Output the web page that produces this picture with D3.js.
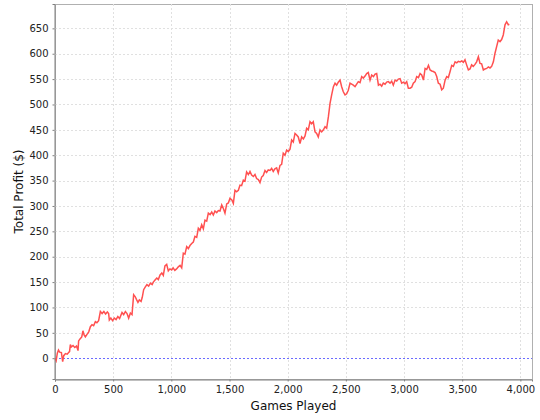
<!DOCTYPE html>
<html><head><meta charset="utf-8">
<script src="https://cdn.jsdelivr.net/npm/d3@7"></script>
<style>body{margin:0;background:#fff}svg{display:block}text{font-family:"DejaVu Sans",sans-serif}</style>
</head><body>
<svg id="c" width="540" height="420"></svg>
<script>
const games = [0,10,20,30,40,55,66,75,90,105,117,125,132,140,155,170,185,198,203,215,230,240,250,261,275,290,304,318,332,347,360,375,390,405,420,435,450,461,467,480,495,510,525,540,555,576,590,605,619,633,648,662,676,690,700,713,725,740,750,762,775,790,805,820,835,845,860,875,888,903,918,931,945,960,974,988,1003,1015,1030,1045,1060,1075,1089,1103,1117,1132,1146,1160,1175,1189,1203,1218,1232,1246,1261,1275,1289,1304,1318,1333,1347,1361,1375,1390,1404,1418,1433,1447,1461,1476,1490,1504,1520,1533,1547,1561,1576,1590,1604,1619,1633,1647,1662,1676,1690,1705,1719,1733,1748,1762,1776,1790,1805,1819,1833,1848,1862,1876,1890,1905,1919,1934,1948,1962,1977,1991,2005,2020,2034,2048,2063,2077,2091,2106,2120,2135,2149,2163,2177,2192,2206,2220,2235,2249,2263,2278,2292,2307,2321,2335,2350,2364,2378,2393,2407,2421,2435,2450,2464,2478,2493,2507,2521,2536,2550,2564,2579,2593,2607,2622,2636,2650,2665,2679,2693,2708,2722,2737,2751,2765,2780,2794,2808,2822,2837,2851,2865,2880,2894,2908,2923,2937,2951,2966,2980,2995,3009,3023,3037,3052,3066,3080,3095,3109,3124,3138,3152,3167,3181,3195,3210,3224,3238,3252,3267,3281,3295,3310,3324,3338,3353,3367,3381,3396,3410,3424,3439,3453,3467,3482,3496,3510,3524,3538,3553,3567,3581,3595,3610,3624,3639,3653,3667,3682,3696,3710,3725,3739,3753,3768,3782,3796,3810,3825,3839,3853,3868,3882,3896,3905];
const profit = [0,-5,10,16,12,11,-7,5,9,8,11,13,27,22,25,21,24,15,34,38,42,54,46,42,47,52,62,66,64,72,70,74,92,88,92,87,91,88,75,79,74,79,76,82,78,90,86,92,88,79,89,86,125,121,116,110,115,112,120,135,140,145,142,148,145,150,154,158,155,164,168,163,182,185,172,176,174,178,173,176,180,183,178,207,205,220,216,222,226,229,240,238,256,252,263,255,272,270,286,283,288,282,290,287,291,290,302,295,286,304,306,315,312,305,331,328,331,341,340,351,349,367,362,368,361,358,362,354,352,346,357,360,370,366,371,370,374,368,373,375,365,380,382,404,400,410,407,412,430,426,443,440,436,423,436,432,438,453,450,466,462,466,446,443,436,450,446,450,456,453,476,502,519,535,542,538,544,548,535,525,519,521,528,542,540,538,535,540,545,543,555,552,556,561,563,548,558,555,560,561,538,540,536,542,540,544,545,542,546,538,548,546,550,551,542,544,541,545,532,532,534,542,545,555,553,561,558,548,571,569,577,568,566,565,563,555,542,540,529,532,548,555,553,565,577,575,584,582,585,584,586,583,588,578,568,570,578,575,579,584,594,581,580,568,570,571,574,572,575,584,601,614,627,624,628,637,657,663,657,658];
const xTicks = [0,500,1000,1500,2000,2500,3000,3500,4000];
const yTicks = [0,50,100,150,200,250,300,350,400,450,500,550,600,650];
const xLabel = "Games Played";
const yLabel = "Total Profit ($)";

const svg = d3.select("#c");
const L = 55, R = 532, T = 4, B = 379;
const x = d3.scaleLinear().domain([0, 4100]).range([L, R]);
const y = d3.scaleLinear().domain([-41, 698]).range([B, T]);

svg.append("rect").attr("x", L).attr("y", T).attr("width", R - L).attr("height", B - T)
  .attr("fill", "#fff").attr("stroke", "#b0b0b0").attr("stroke-width", 1).attr("shape-rendering","crispEdges");

const grid = svg.append("g").attr("stroke", "#e0e0e0").attr("stroke-dasharray", "2,2").attr("shape-rendering","crispEdges");
grid.selectAll(".gx").data(xTicks.filter(d => d > 0)).join("line")
  .attr("x1", d => Math.round(x(d)) + 0.5).attr("x2", d => Math.round(x(d)) + 0.5).attr("y1", T).attr("y2", B);
grid.selectAll(".gy").data(yTicks).join("line")
  .attr("y1", d => Math.round(y(d)) + 0.5).attr("y2", d => Math.round(y(d)) + 0.5).attr("x1", L).attr("x2", R);

svg.append("line").attr("x1", L).attr("x2", R).attr("y1", Math.round(y(0)) + 0.5).attr("y2", Math.round(y(0)) + 0.5)
  .attr("stroke", "#6b6bff").attr("stroke-dasharray", "2,2").attr("shape-rendering","crispEdges");

const pts = games.map((g, i) => [g, profit[i]]);
svg.append("path").datum(pts)
  .attr("d", d3.line().x(d => x(d[0])).y(d => y(d[1])))
  .attr("fill", "none").attr("stroke", "#ff5050").attr("stroke-width", 1.5).attr("stroke-linejoin","miter");

const xAxis = d3.axisBottom(x).tickValues(xTicks).tickSize(2).tickPadding(4).tickFormat(d3.format(","));
const gx = svg.append("g").attr("transform", `translate(0,${B + 0.5})`).call(xAxis);
const yAxis = d3.axisLeft(y).tickValues(yTicks).tickSize(2).tickPadding(4).tickFormat(d3.format(","));
const gy = svg.append("g").attr("transform", `translate(${L - 0.5},0)`).call(yAxis);
[gx, gy].forEach(g => {
  g.select(".domain").attr("stroke", "#808080");
  g.selectAll(".tick line").attr("stroke", "#808080");
  g.selectAll(".tick text").attr("fill", "#222").style("font-size", "10px").style("font-family", "DejaVu Sans");
});

svg.append("text").attr("x", (L + R) / 2).attr("y", 410).attr("text-anchor", "middle")
  .style("font-size", "12px").attr("fill", "#111").text(xLabel);
svg.append("text").attr("transform", `translate(23,${(T + B) / 2}) rotate(-90)`).attr("text-anchor", "middle")
  .style("font-size", "12px").attr("fill", "#111").text(yLabel);
</script>
</body></html>
